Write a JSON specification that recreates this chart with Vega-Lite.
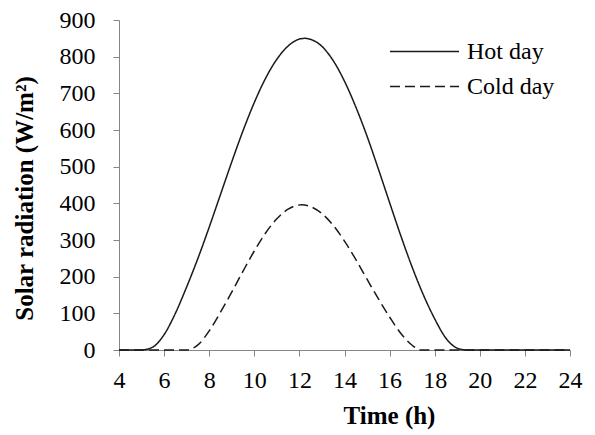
{
  "$schema": "https://vega.github.io/schema/vega-lite/v6.json",
  "width": 451,
  "height": 330,
  "autosize": {"type": "none"},
  "padding": {"left": 119, "top": 20, "right": 25, "bottom": 85},
  "background": "white",
  "config": {
    "font": "Liberation Serif",
    "view": {"stroke": null},
    "axis": {
      "grid": false,
      "domainColor": "#868686",
      "tickColor": "#868686",
      "domainWidth": 1,
      "tickWidth": 1,
      "labelFont": "Liberation Serif",
      "labelFontSize": 24,
      "labelColor": "#000000",
      "titleFont": "Liberation Serif",
      "titleFontSize": 25,
      "titleFontWeight": "bold",
      "titleColor": "#000000"
    }
  },
  "data": {
    "values": [
      {"t": 4, "r": 0, "day": "Hot day"},
      {"t": 5, "r": 0, "day": "Hot day"},
      {"t": 5.5, "r": 8, "day": "Hot day"},
      {"t": 6, "r": 42, "day": "Hot day"},
      {"t": 6.5, "r": 100, "day": "Hot day"},
      {"t": 7, "r": 172, "day": "Hot day"},
      {"t": 7.5, "r": 250, "day": "Hot day"},
      {"t": 8, "r": 335, "day": "Hot day"},
      {"t": 8.5, "r": 424, "day": "Hot day"},
      {"t": 9, "r": 513, "day": "Hot day"},
      {"t": 9.5, "r": 598, "day": "Hot day"},
      {"t": 10, "r": 675, "day": "Hot day"},
      {"t": 10.5, "r": 741, "day": "Hot day"},
      {"t": 11, "r": 793, "day": "Hot day"},
      {"t": 11.5, "r": 829, "day": "Hot day"},
      {"t": 12, "r": 848, "day": "Hot day"},
      {"t": 12.25, "r": 850, "day": "Hot day"},
      {"t": 12.5, "r": 847, "day": "Hot day"},
      {"t": 13, "r": 828, "day": "Hot day"},
      {"t": 13.5, "r": 789, "day": "Hot day"},
      {"t": 14, "r": 733, "day": "Hot day"},
      {"t": 14.5, "r": 663, "day": "Hot day"},
      {"t": 15, "r": 583, "day": "Hot day"},
      {"t": 15.5, "r": 494, "day": "Hot day"},
      {"t": 16, "r": 402, "day": "Hot day"},
      {"t": 16.5, "r": 311, "day": "Hot day"},
      {"t": 17, "r": 226, "day": "Hot day"},
      {"t": 17.5, "r": 150, "day": "Hot day"},
      {"t": 18, "r": 85, "day": "Hot day"},
      {"t": 18.5, "r": 32, "day": "Hot day"},
      {"t": 19, "r": 5, "day": "Hot day"},
      {"t": 19.4, "r": 0, "day": "Hot day"},
      {"t": 24, "r": 0, "day": "Hot day"},
      {"t": 4, "r": 0, "day": "Cold day"},
      {"t": 7, "r": 0, "day": "Cold day"},
      {"t": 7.5, "r": 14, "day": "Cold day"},
      {"t": 8, "r": 52, "day": "Cold day"},
      {"t": 8.5, "r": 103, "day": "Cold day"},
      {"t": 9, "r": 158, "day": "Cold day"},
      {"t": 9.5, "r": 215, "day": "Cold day"},
      {"t": 10, "r": 270, "day": "Cold day"},
      {"t": 10.5, "r": 319, "day": "Cold day"},
      {"t": 11, "r": 358, "day": "Cold day"},
      {"t": 11.5, "r": 384, "day": "Cold day"},
      {"t": 12.1, "r": 396, "day": "Cold day"},
      {"t": 12.5, "r": 391, "day": "Cold day"},
      {"t": 13, "r": 372, "day": "Cold day"},
      {"t": 13.5, "r": 340, "day": "Cold day"},
      {"t": 14, "r": 297, "day": "Cold day"},
      {"t": 14.5, "r": 247, "day": "Cold day"},
      {"t": 15, "r": 193, "day": "Cold day"},
      {"t": 15.5, "r": 140, "day": "Cold day"},
      {"t": 16, "r": 90, "day": "Cold day"},
      {"t": 16.5, "r": 45, "day": "Cold day"},
      {"t": 17, "r": 13, "day": "Cold day"},
      {"t": 17.4, "r": 0, "day": "Cold day"},
      {"t": 24, "r": 0, "day": "Cold day"}
    ]
  },
  "mark": {"type": "line", "interpolate": "monotone", "color": "#1a1a1a", "strokeWidth": 1.5},
  "encoding": {
    "x": {
      "field": "t",
      "type": "quantitative",
      "scale": {"domain": [4, 24], "nice": false, "zero": false},
      "axis": {
        "values": [4, 6, 8, 10, 12, 14, 16, 18, 20, 22, 24],
        "title": "Time (h)",
        "tickSize": 6,
        "labelPadding": 12,
        "labelFlush": false,
        "titleX": 270,
        "titleY": 73,
        "titleAlign": "center",
        "titleBaseline": "alphabetic"
      }
    },
    "y": {
      "field": "r",
      "type": "quantitative",
      "scale": {"domain": [0, 900], "nice": false},
      "axis": {
        "values": [0, 100, 200, 300, 400, 500, 600, 700, 800, 900],
        "title": "Solar radiation (W/m²)",
        "tickSize": 6,
        "labelPadding": 18,
        "labelFlush": false,
        "titleAngle": -90,
        "titleX": -82,
        "titleY": 178,
        "titleAlign": "center",
        "titleBaseline": "bottom"
      }
    },
    "strokeDash": {
      "field": "day",
      "type": "nominal",
      "sort": ["Hot day", "Cold day"],
      "scale": {"domain": ["Hot day", "Cold day"], "range": [[1, 0], [10, 5]]},
      "legend": {
        "title": null,
        "orient": "none",
        "legendX": 293,
        "legendY": 19,
        "symbolType": "M-3,0H3",
        "symbolSize": 529,
        "symbolStrokeWidth": 1.5,
        "symbolStrokeColor": "#1a1a1a",
        "labelFont": "Liberation Serif",
        "labelFontSize": 24,
        "labelColor": "#000000",
        "labelOffset": 30,
        "rowPadding": 10
      }
    }
  }
}
